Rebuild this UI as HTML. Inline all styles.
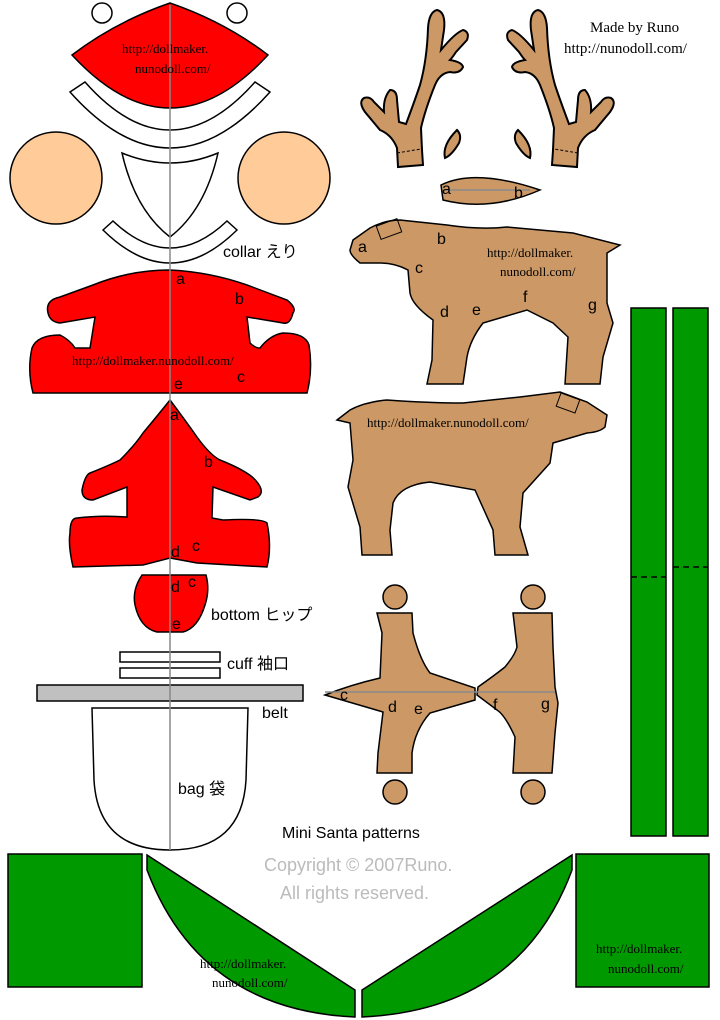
<!DOCTYPE html>
<html><head><meta charset="utf-8"><style>body{margin:0;background:#fff}svg{display:block}text{font-family:"Liberation Sans","Noto Sans CJK JP",sans-serif}.s text{font-family:"Liberation Serif",serif}</style></head><body>
<svg width="720" height="1020" viewBox="0 0 720 1020" xmlns="http://www.w3.org/2000/svg" stroke="#000" stroke-width="1.5">
<circle cx="102" cy="13" r="10" fill="#fff"/><circle cx="237" cy="13" r="10" fill="#fff"/>
<path d="M72,55 Q115,22 170,3 Q225,22 268,55 Q170,161 72,55 Z" fill="#f00"/>
<path d="M70,92 L85,82 Q170,178 255,82 L270,92 Q170,204 70,92 Z" fill="#fff"/>
<circle cx="56" cy="178" r="46" fill="#fc9"/><circle cx="284" cy="178" r="46" fill="#fc9"/>
<path d="M122,153 Q170,173 218,153 Q205,210 170,237 Q135,210 122,153 Z" fill="#fff"/>
<path d="M103,230 L113,221 Q170,275 227,221 L237,230 Q170,296 103,230 Z" fill="#fff"/>
<path d="M48,313 Q45,300 60,297 L93,285 Q130,270 170,270 Q210,272 247,285 L287,300 Q297,308 293,313 Q290,325 283,323 L247,317 L250,343 Q255,348 260,348 Q270,335 283,333 Q305,333 309,345 Q313,370 307,393 L33,393 Q27,370 32,348 Q37,335 60,335 Q70,340 75,348 L90,348 L95,317 L60,323 Q50,322 48,313 Z" fill="#f00"/>
<path d="M170,400 Q185,420 197,437 Q210,455 220,460 Q250,472 257,482 Q265,492 258,497 Q250,500 250,500 L213,487 L212,518 L223,520 Q262,518 267,523 Q272,547 267,567 L197,563 L170,558 L143,565 L73,567 Q68,545 70,533 Q70,518 77,518 Q100,515 127,517 L127,487 L93,500 Q82,500 82,490 Q85,475 90,473 Q110,465 120,460 Q135,445 143,433 Q158,415 170,400 Z" fill="#f00"/>
<path d="M142,575 L206,575 Q210,590 205,605 Q198,628 183,632 L157,632 Q140,628 135,605 Q132,590 142,575 Z" fill="#f00"/>
<rect x="120" y="652" width="100" height="10" fill="#fff"/><rect x="120" y="668" width="100" height="10" fill="#fff"/>
<rect x="37" y="685" width="266" height="16" fill="#c0c0c0"/>
<path d="M92,708 L248,708 L246,780 Q242,850 170,850 Q98,850 94,780 Z" fill="#fff"/>
<line x1="170" y1="5" x2="170" y2="850" stroke="#888"/>
<rect x="8" y="854" width="134" height="133" fill="#090"/>
<rect x="576" y="854" width="133" height="133" fill="#090"/>
<rect x="631" y="308" width="35" height="528" fill="#090"/>
<rect x="673" y="308" width="35" height="528" fill="#090"/>
<line x1="631" y1="577" x2="666" y2="577" stroke-dasharray="6,4"/>
<line x1="673" y1="567" x2="708" y2="567" stroke-dasharray="6,4"/>
<path d="M147,855 L355,990 L355,1017 Q200,1010 147,870 Z" fill="#090"/>
<path d="M572,855 L362,990 L362,1017 Q520,1010 572,870 Z" fill="#090"/>
<g id="ant" fill="#c96" stroke-width="2">
<path d="M398,167 L397,148 Q392,135 380,130 L365,112 Q358,102 364,98 Q370,96 374,102 L384,112 Q383,98 390,90 Q397,90 397,100 L399,122 L406,124 Q415,100 420,85 Q427,60 428,28 Q429,12 437,10 Q446,12 444,30 L441,50 Q455,33 463,30 Q470,32 467,40 L456,52 Q452,58 450,60 Q462,62 463,67 Q460,74 450,72 Q440,73 435,85 Q425,110 421,128 L422,150 L423,165 Z"/>
<path d="M397,153 L421,149" fill="none" stroke-width="1" stroke-dasharray="3,2"/>
<path d="M445,158 Q442,145 457,130 Q462,135 459,143 Q452,155 445,158 Z"/>
</g>
<use href="#ant" transform="translate(975,0) scale(-1,1)"/>
<path d="M441,185 Q475,168 540,190 Q490,212 443,200 Z" fill="#c96"/>
<line x1="445" y1="190" x2="530" y2="190" stroke="#888"/>
<path d="M370,228 Q385,220 400,220 L447,225 Q480,230 507,227 L573,233 L620,245 L607,253 L607,303 L613,323 L603,357 L600,384 L565,384 L568,337 L553,323 L527,310 L483,323 Q470,340 467,357 L463,384 L427,384 L432,360 L433,320 Q412,305 410,293 L408,270 Q395,263 380,263 L360,263 Q350,255 350,250 L353,240 Z" fill="#c96"/>
<rect x="378" y="222" width="22" height="14" fill="none" stroke-width="1" transform="rotate(-20 389 229)"/>
<path d="M337,420 L350,410 Q365,402 387,400 Q430,403 463,403 L520,397 L560,392 L587,402 L607,415 L605,427 Q600,432 587,433 L553,443 L550,463 L523,493 L520,527 L528,555 L495,555 L493,530 L475,490 L430,482 Q400,485 393,503 L390,530 L392,555 L362,555 L360,527 L348,487 L353,460 L350,423 Z" fill="#c96"/>
<rect x="558" y="396" width="20" height="14" fill="none" stroke-width="1" transform="rotate(20 568 403)"/>
<g fill="#c96">
<circle cx="395" cy="597" r="12"/><circle cx="533" cy="597" r="12"/>
<circle cx="395" cy="792" r="12"/><circle cx="533" cy="792" r="12"/>
<path d="M377,613 L412,613 L413,633 Q420,660 430,673 L475,688 L475,700 L430,713 Q415,730 412,753 L412,773 L377,773 L378,753 L383,712 L325,695 Q350,685 380,678 L382,633 Z"/>
<path d="M513,613 L552,613 L553,647 L555,687 L558,703 L555,733 L552,773 L513,773 L515,737 Q505,715 497,710 L477,695 L478,687 Q495,675 505,667 Q515,655 517,647 Z"/>
</g>
<line x1="325" y1="692" x2="555" y2="692" stroke="#888"/>
<g stroke="none" font-size="16">
<text x="176" y="284">a</text><text x="235" y="304">b</text><text x="174" y="389">e</text><text x="237" y="382">c</text>
<text x="170" y="420">a</text><text x="204" y="467">b</text><text x="171" y="557">d</text><text x="192" y="551">c</text>
<text x="171" y="592">d</text><text x="188" y="587">c</text><text x="172" y="629">e</text>
<text x="442" y="194">a</text><text x="514" y="198">b</text>
<text x="358" y="252">a</text><text x="437" y="244">b</text><text x="415" y="273">c</text><text x="440" y="317">d</text><text x="472" y="315">e</text><text x="523" y="302">f</text><text x="588" y="310">g</text>
<text x="340" y="700">c</text><text x="388" y="712">d</text><text x="414" y="714">e</text><text x="493" y="710">f</text><text x="541" y="709">g</text>
<text x="223" y="257">collar えり</text><text x="211" y="620">bottom ヒップ</text><text x="227" y="669">cuff 袖口</text><text x="262" y="718">belt</text><text x="178" y="794">bag 袋</text>
<text x="282" y="838" font-size="16">Mini Santa patterns</text>
<text x="264" y="871" font-size="18" fill="#bbb">Copyright © 2007Runo.</text>
<text x="280" y="899" font-size="18" fill="#bbb">All rights reserved.</text>
<g class="s" font-size="13"><text x="122" y="53">http://dollmaker.</text><text x="135" y="73">nunodoll.com/</text>
<text x="72" y="365">http://dollmaker.nunodoll.com/</text>
<text x="487" y="257">http://dollmaker.</text><text x="500" y="276">nunodoll.com/</text>
<text x="367" y="427">http://dollmaker.nunodoll.com/</text>
<text x="200" y="968">http://dollmaker.</text><text x="212" y="987">nunodoll.com/</text>
<text x="596" y="953">http://dollmaker.</text><text x="608" y="973">nunodoll.com/</text>
<text x="590" y="32" font-size="15">Made by Runo</text>
<text x="564" y="53" font-size="15">http://nunodoll.com/</text></g>
</g>
</svg>
</body></html>
